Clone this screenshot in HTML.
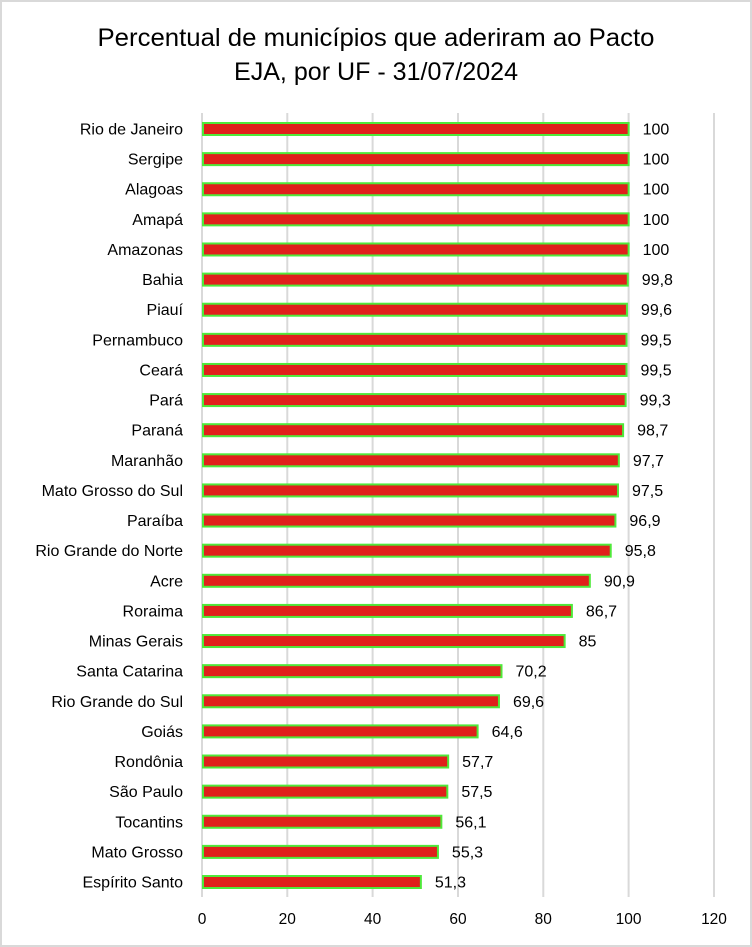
<!DOCTYPE html>
<html><head><meta charset="utf-8"><style>
html,body{margin:0;padding:0;background:#fff}
svg{display:block}
text{font-family:"Liberation Sans",sans-serif;fill:#000}
</style></head><body>
<svg width="752" height="947" viewBox="0 0 752 947" xmlns="http://www.w3.org/2000/svg">
<rect x="1" y="1" width="750" height="945" fill="#fff" stroke="#d9d9d9" stroke-width="2"/>
<text x="376" y="46" font-size="25" text-anchor="middle" textLength="557" lengthAdjust="spacingAndGlyphs">Percentual de municípios que aderiram ao Pacto</text>
<text x="376" y="80" font-size="25" text-anchor="middle" textLength="284" lengthAdjust="spacingAndGlyphs">EJA, por UF - 31/07/2024</text>
<g stroke="#d9d9d9" stroke-width="2">
<line x1="202" y1="113" x2="202" y2="897"/>
<line x1="287.3" y1="113" x2="287.3" y2="897"/>
<line x1="372.6" y1="113" x2="372.6" y2="897"/>
<line x1="458" y1="113" x2="458" y2="897"/>
<line x1="543.3" y1="113" x2="543.3" y2="897"/>
<line x1="628.6" y1="113" x2="628.6" y2="897"/>
<line x1="714" y1="113" x2="714" y2="897"/>
</g>
<g font-size="15.5" text-anchor="middle">
<text x="202" y="924">0</text><text x="287.3" y="924">20</text><text x="372.6" y="924">40</text><text x="458" y="924">60</text><text x="543.3" y="924">80</text><text x="628.6" y="924">100</text><text x="714" y="924">120</text>
</g>
<g id="bars"></g>
</svg>
<script>
var d=[["Rio de Janeiro","100"],["Sergipe","100"],["Alagoas","100"],["Amapá","100"],["Amazonas","100"],["Bahia","99,8"],["Piauí","99,6"],["Pernambuco","99,5"],["Ceará","99,5"],["Pará","99,3"],["Paraná","98,7"],["Maranhão","97,7"],["Mato Grosso do Sul","97,5"],["Paraíba","96,9"],["Rio Grande do Norte","95,8"],["Acre","90,9"],["Roraima","86,7"],["Minas Gerais","85"],["Santa Catarina","70,2"],["Rio Grande do Sul","69,6"],["Goiás","64,6"],["Rondônia","57,7"],["São Paulo","57,5"],["Tocantins","56,1"],["Mato Grosso","55,3"],["Espírito Santo","51,3"]];
var g=document.getElementById("bars"),s="";
d.forEach(function(r,i){var y=129+i*30.12,v=parseFloat(r[1].replace(",",".")),w=v*4.2664;
s+='<rect x="203" y="'+(y-6)+'" width="'+(w-1)+'" height="12" fill="#e0201b" stroke="#4fe93a" stroke-width="2"/>';
s+='<text x="183" y="'+(y+5.5)+'" font-size="16" text-anchor="end">'+r[0]+'</text>';
s+='<text x="'+(202+w+14)+'" y="'+(y+5.5)+'" font-size="16">'+r[1]+'</text>';});
g.innerHTML=s;
</script>
</body></html>
